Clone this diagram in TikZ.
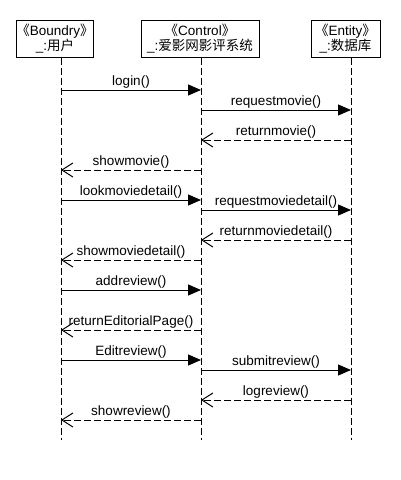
\documentclass[tikz,border=0pt]{standalone}
\usepackage{fontspec}
\setmainfont{Liberation Sans}
\newfontfamily\cjk{Noto Sans CJK SC}
\usetikzlibrary{arrows.meta}

\tikzset{
  obj/.style={draw, line width=1pt, minimum height=37pt, inner sep=0pt,
    align=center, font=\fontsize{13.5}{15.5}\selectfont},
  lifeline/.style={line width=1pt, dash pattern=on 7pt off 3pt},
  call/.style={line width=1pt, -{Triangle[length=13pt,width=11pt]}},
  reply/.style={line width=1pt, dash pattern=on 7pt off 3pt,
    -{Straight Barb[length=11pt,width=14pt,line width=1pt]}},
  msg/.style={above, inner sep=1pt, font=\fontsize{13.5}{15}\selectfont}
}

\begin{document}
\begin{tikzpicture}[x=1pt,y=-1pt]
  \useasboundingbox (0,0) rectangle (400,480);
  % participants
  \node[obj, minimum width=70pt] (user) at (55,38.5)
    {{\cjk 《}Boundry{\cjk 》}\\\_:{\cjk 用户}};
  \node[obj, minimum width=118pt] (ctrl) at (200,38.5)
    {{\cjk 《}Control{\cjk 》}\\\_:{\cjk 爱影网影评系统}};
  \node[obj, minimum width=69pt] (db) at (345.5,38.5)
    {{\cjk 《}Entity{\cjk 》}\\\_:{\cjk 数据库}};
  % lifeline ends
  \coordinate (userend) at (61,440);
  \coordinate (ctrlend) at (201,440);
  \coordinate (dbend) at (351,440);
  \draw[lifeline] (userend |- user.south) -- (userend);
  \draw[lifeline] (ctrlend |- ctrl.south) -- (ctrlend);
  \draw[lifeline] (dbend |- db.south) -- (dbend);
  % browsing movies
  \draw[call] (userend |- 0,90) -- node[msg] {login()} (ctrlend |- 0,90);
  \draw[call] (ctrlend |- 0,110) -- node[msg] {requestmovie()} (dbend |- 0,110);
  \draw[reply] (dbend |- 0,140) -- node[msg] {returnmovie()} (ctrlend |- 0,140);
  \draw[reply] (ctrlend |- 0,170) -- node[msg] {showmovie()} (userend |- 0,170);
  % movie detail
  \draw[call] (userend |- 0,200) -- node[msg] {lookmoviedetail()} (ctrlend |- 0,200);
  \draw[call] (ctrlend |- 0,210) -- node[msg] {requestmoviedetail()} (dbend |- 0,210);
  \draw[reply] (dbend |- 0,240) -- node[msg] {returnmoviedetail()} (ctrlend |- 0,240);
  \draw[reply] (ctrlend |- 0,260) -- node[msg] {showmoviedetail()} (userend |- 0,260);
  % writing a review
  \draw[call] (userend |- 0,290) -- node[msg] {addreview()} (ctrlend |- 0,290);
  \draw[reply] (ctrlend |- 0,330) -- node[msg] {returnEditorialPage()} (userend |- 0,330);
  \draw[call] (userend |- 0,360) -- node[msg] {Editreview()} (ctrlend |- 0,360);
  \draw[call] (ctrlend |- 0,370) -- node[msg] {submitreview()} (dbend |- 0,370);
  \draw[reply] (dbend |- 0,400) -- node[msg] {logreview()} (ctrlend |- 0,400);
  \draw[reply] (ctrlend |- 0,420) -- node[msg] {showreview()} (userend |- 0,420);
\end{tikzpicture}
\end{document}
